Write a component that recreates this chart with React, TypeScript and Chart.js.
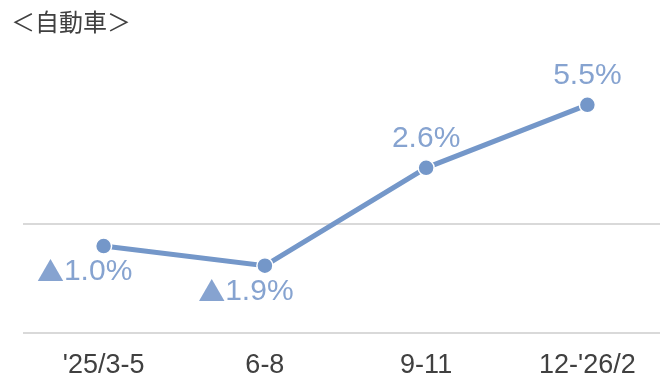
import React, { useEffect, useRef } from "react";
import { Chart, registerables } from "chart.js";

Chart.register(...registerables);

const title = "＜自動車＞";
const categories = ["'25/3-5", "6-8", "9-11", "12-'26/2"];
const values = [-1.0, -1.9, 2.6, 5.5];

const LINE = "#7497c9";
const LABEL = "#86a3d0";

const labelPlugin = {
  id: "valueLabels",
  afterDatasetsDraw(chart: any) {
    const ctx = chart.ctx;
    const meta = chart.getDatasetMeta(0);
    ctx.save();
    ctx.fillStyle = LABEL;
    ctx.textBaseline = "middle";
    const numFont = "30px 'Liberation Sans', Arial, sans-serif";
    const triFont = "27px 'Noto Sans CJK JP', sans-serif";
    meta.data.forEach((pt: any, i: number) => {
      const v = values[i];
      const num = Math.abs(v).toFixed(1) + "%";
      ctx.font = numFont;
      const nw = ctx.measureText(num).width;
      if (v < 0) {
        ctx.font = triFont;
        const tw = ctx.measureText("▲").width;
        const total = tw + nw;
        const cx = pt.x - 19;
        const cy = pt.y + 26;
        const x0 = cx - total / 2;
        ctx.textAlign = "left";
        ctx.fillText("▲", x0, cy);
        ctx.font = numFont;
        ctx.fillText(num, x0 + tw, cy);
      } else {
        ctx.textAlign = "center";
        ctx.font = numFont;
        ctx.fillText(num, pt.x, pt.y - 29);
      }
    });
    ctx.restore();
  },
};

export default function App() {
  const ref = useRef<HTMLCanvasElement>(null);
  useEffect(() => {
    if (!ref.current) return;
    const chart = new Chart(ref.current, {
      type: "line",
      data: {
        labels: categories,
        datasets: [
          {
            data: values,
            borderColor: LINE,
            backgroundColor: LINE,
            borderWidth: 5,
            pointRadius: 8,
            pointHoverRadius: 8,
            pointBackgroundColor: LINE,
            pointBorderColor: "#ffffff",
            pointBorderWidth: 1.5,
            tension: 0,
            clip: false,
          },
        ],
      },
      options: {
        responsive: false,
        animation: false,
        layout: { autoPadding: false, padding: { left: 23, right: 0, top: 7, bottom: 4 } },
        plugins: {
          legend: { display: false },
          tooltip: { enabled: false },
          title: { display: false },
        },
        scales: {
          x: {
            offset: true,
            grid: { display: false, drawTicks: false },
            border: { display: false },
            afterFit(scale: any) {
              scale.height = 43;
              scale.paddingLeft = 0;
              scale.paddingRight = 0;
            },
            ticks: {
              color: "#404040",
              padding: 16,
              maxRotation: 0,
              autoSkip: false,
              font: { size: 27, family: "'Liberation Sans', Arial, sans-serif" },
            },
          },
          y: {
            min: -5,
            max: 10,
            afterFit(scale: any) {
              scale.width = 0;
              scale.paddingTop = 0;
              scale.paddingBottom = 0;
            },
            ticks: { display: false, stepSize: 5 },
            border: { display: false },
            grid: {
              drawTicks: false,
              lineWidth: 2,
              color: (c: any) =>
                c.tick && (c.tick.value === 0 || c.tick.value === -5) ? "#d9d9d9" : "rgba(0,0,0,0)",
            },
          },
        },
      },
      plugins: [labelPlugin],
    });
    return () => chart.destroy();
  }, []);
  return (
    <div style={{ position: "fixed", left: 0, top: 0, width: 668, height: 380, overflow: "visible" }}>
      <canvas ref={ref} width={668} height={380} style={{ display: "block" }} />
      <div
        style={{
          position: "absolute",
          left: 11,
          top: 6,
          fontFamily: "'Noto Sans CJK JP', sans-serif",
          fontSize: 24,
          color: "#404040",
          lineHeight: "30px",
        }}
      >
        {title}
      </div>
    </div>
  );
}
